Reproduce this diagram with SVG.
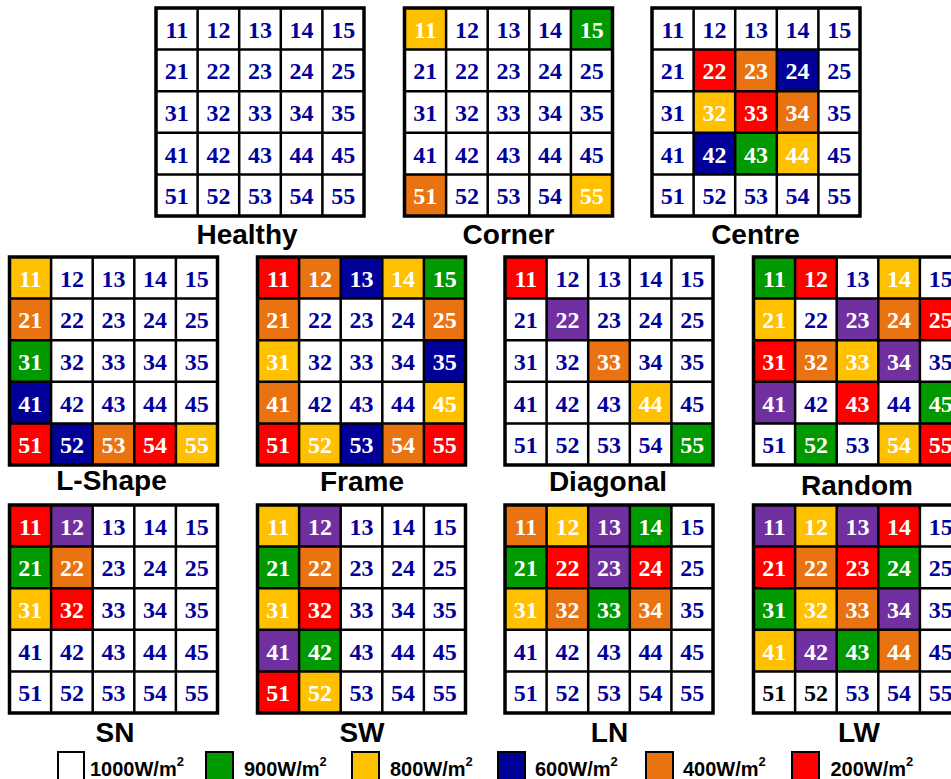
<svg xmlns="http://www.w3.org/2000/svg" xmlns:xlink="http://www.w3.org/1999/xlink" width="951" height="779" viewBox="0 0 951 779">
<style>
.y{fill:#FFC000}.gr{fill:#009900}.b{fill:#000099}.o{fill:#E97311}.r{fill:#FF0000}.p{fill:#7030A0}
.bg{fill:#fff}
.num{font-family:"Liberation Serif","Times New Roman",serif;font-weight:bold;font-size:24px;text-anchor:middle;fill:#000099}
.num .w{fill:#fff}.num .k{fill:#000}
.title{font-family:"Liberation Sans",Arial,sans-serif;font-weight:bold;font-size:28px;text-anchor:middle;fill:#000}
.leg{font-family:"Liberation Sans",Arial,sans-serif;font-weight:bold;font-size:20px;fill:#000}
.lbox{stroke:#000;stroke-width:2}
</style>
<defs>
<g id="lines"><path d="M41.6 0V208M83.2 0V208M124.8 0V208M166.4 0V208M0 41.6H208M0 83.2H208M0 124.8H208M0 166.4H208" stroke="#000" stroke-width="2.5" fill="none"/><rect width="208" height="208" fill="none" stroke="#000" stroke-width="3.5"/></g>
</defs>
<rect width="951" height="779" fill="#fff"/>

<g id="healthy" transform="translate(156,8)">
<rect class="bg" width="208" height="208"/>
<use xlink:href="#lines"/>
<text class="num" y="29.8"><tspan x="20.8">11</tspan><tspan x="62.4">12</tspan><tspan x="104">13</tspan><tspan x="145.6">14</tspan><tspan x="187.2">15</tspan></text>
<text class="num" y="71.4"><tspan x="20.8">21</tspan><tspan x="62.4">22</tspan><tspan x="104">23</tspan><tspan x="145.6">24</tspan><tspan x="187.2">25</tspan></text>
<text class="num" y="113"><tspan x="20.8">31</tspan><tspan x="62.4">32</tspan><tspan x="104">33</tspan><tspan x="145.6">34</tspan><tspan x="187.2">35</tspan></text>
<text class="num" y="154.6"><tspan x="20.8">41</tspan><tspan x="62.4">42</tspan><tspan x="104">43</tspan><tspan x="145.6">44</tspan><tspan x="187.2">45</tspan></text>
<text class="num" y="196.2"><tspan x="20.8">51</tspan><tspan x="62.4">52</tspan><tspan x="104">53</tspan><tspan x="145.6">54</tspan><tspan x="187.2">55</tspan></text>
</g>
<text class="title" x="247" y="244">Healthy</text>

<g id="corner" transform="translate(404.5,8)">
<rect class="bg" width="208" height="208"/>
<rect class="y" x="0" y="0" width="41.6" height="41.6"/>
<rect class="gr" x="166.4" y="0" width="41.6" height="41.6"/>
<rect class="o" x="0" y="166.4" width="41.6" height="41.6"/>
<rect class="y" x="166.4" y="166.4" width="41.6" height="41.6"/>
<use xlink:href="#lines"/>
<text class="num" y="29.8"><tspan x="20.8" class="w">11</tspan><tspan x="62.4">12</tspan><tspan x="104">13</tspan><tspan x="145.6">14</tspan><tspan x="187.2" class="w">15</tspan></text>
<text class="num" y="71.4"><tspan x="20.8">21</tspan><tspan x="62.4">22</tspan><tspan x="104">23</tspan><tspan x="145.6">24</tspan><tspan x="187.2">25</tspan></text>
<text class="num" y="113"><tspan x="20.8">31</tspan><tspan x="62.4">32</tspan><tspan x="104">33</tspan><tspan x="145.6">34</tspan><tspan x="187.2">35</tspan></text>
<text class="num" y="154.6"><tspan x="20.8">41</tspan><tspan x="62.4">42</tspan><tspan x="104">43</tspan><tspan x="145.6">44</tspan><tspan x="187.2">45</tspan></text>
<text class="num" y="196.2"><tspan x="20.8" class="w">51</tspan><tspan x="62.4">52</tspan><tspan x="104">53</tspan><tspan x="145.6">54</tspan><tspan x="187.2" class="w">55</tspan></text>
</g>
<text class="title" x="508.5" y="244">Corner</text>

<g id="centre" transform="translate(652,8)">
<rect class="bg" width="208" height="208"/>
<rect class="r" x="41.6" y="41.6" width="41.6" height="41.6"/>
<rect class="o" x="83.2" y="41.6" width="41.6" height="41.6"/>
<rect class="b" x="124.8" y="41.6" width="41.6" height="41.6"/>
<rect class="y" x="41.6" y="83.2" width="41.6" height="41.6"/>
<rect class="r" x="83.2" y="83.2" width="41.6" height="41.6"/>
<rect class="o" x="124.8" y="83.2" width="41.6" height="41.6"/>
<rect class="b" x="41.6" y="124.8" width="41.6" height="41.6"/>
<rect class="gr" x="83.2" y="124.8" width="41.6" height="41.6"/>
<rect class="y" x="124.8" y="124.8" width="41.6" height="41.6"/>
<use xlink:href="#lines"/>
<text class="num" y="29.8"><tspan x="20.8">11</tspan><tspan x="62.4">12</tspan><tspan x="104">13</tspan><tspan x="145.6">14</tspan><tspan x="187.2">15</tspan></text>
<text class="num" y="71.4"><tspan x="20.8">21</tspan><tspan x="62.4" class="w">22</tspan><tspan x="104" class="w">23</tspan><tspan x="145.6" class="w">24</tspan><tspan x="187.2">25</tspan></text>
<text class="num" y="113"><tspan x="20.8">31</tspan><tspan x="62.4" class="w">32</tspan><tspan x="104" class="w">33</tspan><tspan x="145.6" class="w">34</tspan><tspan x="187.2">35</tspan></text>
<text class="num" y="154.6"><tspan x="20.8">41</tspan><tspan x="62.4" class="w">42</tspan><tspan x="104" class="w">43</tspan><tspan x="145.6" class="w">44</tspan><tspan x="187.2">45</tspan></text>
<text class="num" y="196.2"><tspan x="20.8">51</tspan><tspan x="62.4">52</tspan><tspan x="104">53</tspan><tspan x="145.6">54</tspan><tspan x="187.2">55</tspan></text>
</g>
<text class="title" x="755.5" y="244">Centre</text>

<g id="lshape" transform="translate(9.5,257)">
<rect class="bg" width="208" height="208"/>
<rect class="y" x="0" y="0" width="41.6" height="41.6"/>
<rect class="o" x="0" y="41.6" width="41.6" height="41.6"/>
<rect class="gr" x="0" y="83.2" width="41.6" height="41.6"/>
<rect class="b" x="0" y="124.8" width="41.6" height="41.6"/>
<rect class="r" x="0" y="166.4" width="41.6" height="41.6"/>
<rect class="b" x="41.6" y="166.4" width="41.6" height="41.6"/>
<rect class="o" x="83.2" y="166.4" width="41.6" height="41.6"/>
<rect class="r" x="124.8" y="166.4" width="41.6" height="41.6"/>
<rect class="y" x="166.4" y="166.4" width="41.6" height="41.6"/>
<use xlink:href="#lines"/>
<text class="num" y="29.8"><tspan x="20.8" class="w">11</tspan><tspan x="62.4">12</tspan><tspan x="104">13</tspan><tspan x="145.6">14</tspan><tspan x="187.2">15</tspan></text>
<text class="num" y="71.4"><tspan x="20.8" class="w">21</tspan><tspan x="62.4">22</tspan><tspan x="104">23</tspan><tspan x="145.6">24</tspan><tspan x="187.2">25</tspan></text>
<text class="num" y="113"><tspan x="20.8" class="w">31</tspan><tspan x="62.4">32</tspan><tspan x="104">33</tspan><tspan x="145.6">34</tspan><tspan x="187.2">35</tspan></text>
<text class="num" y="154.6"><tspan x="20.8" class="w">41</tspan><tspan x="62.4">42</tspan><tspan x="104">43</tspan><tspan x="145.6">44</tspan><tspan x="187.2">45</tspan></text>
<text class="num" y="196.2"><tspan x="20.8" class="w">51</tspan><tspan x="62.4" class="w">52</tspan><tspan x="104" class="w">53</tspan><tspan x="145.6" class="w">54</tspan><tspan x="187.2" class="w">55</tspan></text>
</g>
<text class="title" x="111.5" y="490">L-Shape</text>

<g id="frame" transform="translate(257.5,257)">
<rect class="bg" width="208" height="208"/>
<rect class="r" x="0" y="0" width="41.6" height="41.6"/>
<rect class="o" x="41.6" y="0" width="41.6" height="41.6"/>
<rect class="b" x="83.2" y="0" width="41.6" height="41.6"/>
<rect class="y" x="124.8" y="0" width="41.6" height="41.6"/>
<rect class="gr" x="166.4" y="0" width="41.6" height="41.6"/>
<rect class="o" x="0" y="41.6" width="41.6" height="41.6"/>
<rect class="o" x="166.4" y="41.6" width="41.6" height="41.6"/>
<rect class="y" x="0" y="83.2" width="41.6" height="41.6"/>
<rect class="b" x="166.4" y="83.2" width="41.6" height="41.6"/>
<rect class="o" x="0" y="124.8" width="41.6" height="41.6"/>
<rect class="y" x="166.4" y="124.8" width="41.6" height="41.6"/>
<rect class="r" x="0" y="166.4" width="41.6" height="41.6"/>
<rect class="y" x="41.6" y="166.4" width="41.6" height="41.6"/>
<rect class="b" x="83.2" y="166.4" width="41.6" height="41.6"/>
<rect class="o" x="124.8" y="166.4" width="41.6" height="41.6"/>
<rect class="r" x="166.4" y="166.4" width="41.6" height="41.6"/>
<use xlink:href="#lines"/>
<text class="num" y="29.8"><tspan x="20.8" class="w">11</tspan><tspan x="62.4" class="w">12</tspan><tspan x="104" class="w">13</tspan><tspan x="145.6" class="w">14</tspan><tspan x="187.2" class="w">15</tspan></text>
<text class="num" y="71.4"><tspan x="20.8" class="w">21</tspan><tspan x="62.4">22</tspan><tspan x="104">23</tspan><tspan x="145.6">24</tspan><tspan x="187.2" class="w">25</tspan></text>
<text class="num" y="113"><tspan x="20.8" class="w">31</tspan><tspan x="62.4">32</tspan><tspan x="104">33</tspan><tspan x="145.6">34</tspan><tspan x="187.2" class="w">35</tspan></text>
<text class="num" y="154.6"><tspan x="20.8" class="w">41</tspan><tspan x="62.4">42</tspan><tspan x="104">43</tspan><tspan x="145.6">44</tspan><tspan x="187.2" class="w">45</tspan></text>
<text class="num" y="196.2"><tspan x="20.8" class="w">51</tspan><tspan x="62.4" class="w">52</tspan><tspan x="104" class="w">53</tspan><tspan x="145.6" class="w">54</tspan><tspan x="187.2" class="w">55</tspan></text>
</g>
<text class="title" x="362" y="491">Frame</text>

<g id="diagonal" transform="translate(505,257)">
<rect class="bg" width="208" height="208"/>
<rect class="r" x="0" y="0" width="41.6" height="41.6"/>
<rect class="p" x="41.6" y="41.6" width="41.6" height="41.6"/>
<rect class="o" x="83.2" y="83.2" width="41.6" height="41.6"/>
<rect class="y" x="124.8" y="124.8" width="41.6" height="41.6"/>
<rect class="gr" x="166.4" y="166.4" width="41.6" height="41.6"/>
<use xlink:href="#lines"/>
<text class="num" y="29.8"><tspan x="20.8" class="w">11</tspan><tspan x="62.4">12</tspan><tspan x="104">13</tspan><tspan x="145.6">14</tspan><tspan x="187.2">15</tspan></text>
<text class="num" y="71.4"><tspan x="20.8">21</tspan><tspan x="62.4" class="w">22</tspan><tspan x="104">23</tspan><tspan x="145.6">24</tspan><tspan x="187.2">25</tspan></text>
<text class="num" y="113"><tspan x="20.8">31</tspan><tspan x="62.4">32</tspan><tspan x="104" class="w">33</tspan><tspan x="145.6">34</tspan><tspan x="187.2">35</tspan></text>
<text class="num" y="154.6"><tspan x="20.8">41</tspan><tspan x="62.4">42</tspan><tspan x="104">43</tspan><tspan x="145.6" class="w">44</tspan><tspan x="187.2">45</tspan></text>
<text class="num" y="196.2"><tspan x="20.8">51</tspan><tspan x="62.4">52</tspan><tspan x="104">53</tspan><tspan x="145.6">54</tspan><tspan x="187.2" class="w">55</tspan></text>
</g>
<text class="title" x="608" y="491">Diagonal</text>

<g id="random" transform="translate(753.5,257)">
<rect class="bg" width="208" height="208"/>
<rect class="gr" x="0" y="0" width="41.6" height="41.6"/>
<rect class="r" x="41.6" y="0" width="41.6" height="41.6"/>
<rect class="y" x="124.8" y="0" width="41.6" height="41.6"/>
<rect class="y" x="0" y="41.6" width="41.6" height="41.6"/>
<rect class="p" x="83.2" y="41.6" width="41.6" height="41.6"/>
<rect class="o" x="124.8" y="41.6" width="41.6" height="41.6"/>
<rect class="r" x="166.4" y="41.6" width="41.6" height="41.6"/>
<rect class="r" x="0" y="83.2" width="41.6" height="41.6"/>
<rect class="o" x="41.6" y="83.2" width="41.6" height="41.6"/>
<rect class="y" x="83.2" y="83.2" width="41.6" height="41.6"/>
<rect class="p" x="124.8" y="83.2" width="41.6" height="41.6"/>
<rect class="p" x="0" y="124.8" width="41.6" height="41.6"/>
<rect class="r" x="83.2" y="124.8" width="41.6" height="41.6"/>
<rect class="gr" x="166.4" y="124.8" width="41.6" height="41.6"/>
<rect class="gr" x="41.6" y="166.4" width="41.6" height="41.6"/>
<rect class="y" x="124.8" y="166.4" width="41.6" height="41.6"/>
<rect class="r" x="166.4" y="166.4" width="41.6" height="41.6"/>
<use xlink:href="#lines"/>
<text class="num" y="29.8"><tspan x="20.8" class="w">11</tspan><tspan x="62.4" class="w">12</tspan><tspan x="104">13</tspan><tspan x="145.6" class="w">14</tspan><tspan x="187.2">15</tspan></text>
<text class="num" y="71.4"><tspan x="20.8" class="w">21</tspan><tspan x="62.4">22</tspan><tspan x="104" class="w">23</tspan><tspan x="145.6" class="w">24</tspan><tspan x="187.2" class="w">25</tspan></text>
<text class="num" y="113"><tspan x="20.8" class="w">31</tspan><tspan x="62.4" class="w">32</tspan><tspan x="104" class="w">33</tspan><tspan x="145.6" class="w">34</tspan><tspan x="187.2">35</tspan></text>
<text class="num" y="154.6"><tspan x="20.8" class="w">41</tspan><tspan x="62.4">42</tspan><tspan x="104" class="w">43</tspan><tspan x="145.6">44</tspan><tspan x="187.2" class="w">45</tspan></text>
<text class="num" y="196.2"><tspan x="20.8">51</tspan><tspan x="62.4" class="w">52</tspan><tspan x="104">53</tspan><tspan x="145.6" class="w">54</tspan><tspan x="187.2" class="w">55</tspan></text>
</g>
<text class="title" x="857" y="495">Random</text>

<g id="sn" transform="translate(9.5,505)">
<rect class="bg" width="208" height="208"/>
<rect class="r" x="0" y="0" width="41.6" height="41.6"/>
<rect class="p" x="41.6" y="0" width="41.6" height="41.6"/>
<rect class="gr" x="0" y="41.6" width="41.6" height="41.6"/>
<rect class="o" x="41.6" y="41.6" width="41.6" height="41.6"/>
<rect class="y" x="0" y="83.2" width="41.6" height="41.6"/>
<rect class="r" x="41.6" y="83.2" width="41.6" height="41.6"/>
<use xlink:href="#lines"/>
<text class="num" y="29.8"><tspan x="20.8" class="w">11</tspan><tspan x="62.4" class="w">12</tspan><tspan x="104">13</tspan><tspan x="145.6">14</tspan><tspan x="187.2">15</tspan></text>
<text class="num" y="71.4"><tspan x="20.8" class="w">21</tspan><tspan x="62.4" class="w">22</tspan><tspan x="104">23</tspan><tspan x="145.6">24</tspan><tspan x="187.2">25</tspan></text>
<text class="num" y="113"><tspan x="20.8" class="w">31</tspan><tspan x="62.4" class="w">32</tspan><tspan x="104">33</tspan><tspan x="145.6">34</tspan><tspan x="187.2">35</tspan></text>
<text class="num" y="154.6"><tspan x="20.8">41</tspan><tspan x="62.4">42</tspan><tspan x="104">43</tspan><tspan x="145.6">44</tspan><tspan x="187.2">45</tspan></text>
<text class="num" y="196.2"><tspan x="20.8">51</tspan><tspan x="62.4">52</tspan><tspan x="104">53</tspan><tspan x="145.6">54</tspan><tspan x="187.2">55</tspan></text>
</g>
<text class="title" x="115" y="742">SN</text>

<g id="sw" transform="translate(257.5,505)">
<rect class="bg" width="208" height="208"/>
<rect class="y" x="0" y="0" width="41.6" height="41.6"/>
<rect class="p" x="41.6" y="0" width="41.6" height="41.6"/>
<rect class="gr" x="0" y="41.6" width="41.6" height="41.6"/>
<rect class="o" x="41.6" y="41.6" width="41.6" height="41.6"/>
<rect class="y" x="0" y="83.2" width="41.6" height="41.6"/>
<rect class="r" x="41.6" y="83.2" width="41.6" height="41.6"/>
<rect class="p" x="0" y="124.8" width="41.6" height="41.6"/>
<rect class="gr" x="41.6" y="124.8" width="41.6" height="41.6"/>
<rect class="r" x="0" y="166.4" width="41.6" height="41.6"/>
<rect class="y" x="41.6" y="166.4" width="41.6" height="41.6"/>
<use xlink:href="#lines"/>
<text class="num" y="29.8"><tspan x="20.8" class="w">11</tspan><tspan x="62.4" class="w">12</tspan><tspan x="104">13</tspan><tspan x="145.6">14</tspan><tspan x="187.2">15</tspan></text>
<text class="num" y="71.4"><tspan x="20.8" class="w">21</tspan><tspan x="62.4" class="w">22</tspan><tspan x="104">23</tspan><tspan x="145.6">24</tspan><tspan x="187.2">25</tspan></text>
<text class="num" y="113"><tspan x="20.8" class="w">31</tspan><tspan x="62.4" class="w">32</tspan><tspan x="104">33</tspan><tspan x="145.6">34</tspan><tspan x="187.2">35</tspan></text>
<text class="num" y="154.6"><tspan x="20.8" class="w">41</tspan><tspan x="62.4" class="w">42</tspan><tspan x="104">43</tspan><tspan x="145.6">44</tspan><tspan x="187.2">45</tspan></text>
<text class="num" y="196.2"><tspan x="20.8" class="w">51</tspan><tspan x="62.4" class="w">52</tspan><tspan x="104">53</tspan><tspan x="145.6">54</tspan><tspan x="187.2">55</tspan></text>
</g>
<text class="title" x="362" y="742">SW</text>

<g id="ln" transform="translate(505,505)">
<rect class="bg" width="208" height="208"/>
<rect class="o" x="0" y="0" width="41.6" height="41.6"/>
<rect class="y" x="41.6" y="0" width="41.6" height="41.6"/>
<rect class="p" x="83.2" y="0" width="41.6" height="41.6"/>
<rect class="gr" x="124.8" y="0" width="41.6" height="41.6"/>
<rect class="gr" x="0" y="41.6" width="41.6" height="41.6"/>
<rect class="r" x="41.6" y="41.6" width="41.6" height="41.6"/>
<rect class="p" x="83.2" y="41.6" width="41.6" height="41.6"/>
<rect class="r" x="124.8" y="41.6" width="41.6" height="41.6"/>
<rect class="y" x="0" y="83.2" width="41.6" height="41.6"/>
<rect class="o" x="41.6" y="83.2" width="41.6" height="41.6"/>
<rect class="gr" x="83.2" y="83.2" width="41.6" height="41.6"/>
<rect class="o" x="124.8" y="83.2" width="41.6" height="41.6"/>
<use xlink:href="#lines"/>
<text class="num" y="29.8"><tspan x="20.8" class="w">11</tspan><tspan x="62.4" class="w">12</tspan><tspan x="104" class="w">13</tspan><tspan x="145.6" class="w">14</tspan><tspan x="187.2">15</tspan></text>
<text class="num" y="71.4"><tspan x="20.8" class="w">21</tspan><tspan x="62.4" class="w">22</tspan><tspan x="104" class="w">23</tspan><tspan x="145.6" class="w">24</tspan><tspan x="187.2">25</tspan></text>
<text class="num" y="113"><tspan x="20.8" class="w">31</tspan><tspan x="62.4" class="w">32</tspan><tspan x="104" class="w">33</tspan><tspan x="145.6" class="w">34</tspan><tspan x="187.2">35</tspan></text>
<text class="num" y="154.6"><tspan x="20.8">41</tspan><tspan x="62.4">42</tspan><tspan x="104">43</tspan><tspan x="145.6">44</tspan><tspan x="187.2">45</tspan></text>
<text class="num" y="196.2"><tspan x="20.8">51</tspan><tspan x="62.4">52</tspan><tspan x="104">53</tspan><tspan x="145.6">54</tspan><tspan x="187.2">55</tspan></text>
</g>
<text class="title" x="609.5" y="742">LN</text>

<g id="lw" transform="translate(753.5,505)">
<rect class="bg" width="208" height="208"/>
<rect class="p" x="0" y="0" width="41.6" height="41.6"/>
<rect class="y" x="41.6" y="0" width="41.6" height="41.6"/>
<rect class="p" x="83.2" y="0" width="41.6" height="41.6"/>
<rect class="r" x="124.8" y="0" width="41.6" height="41.6"/>
<rect class="r" x="0" y="41.6" width="41.6" height="41.6"/>
<rect class="o" x="41.6" y="41.6" width="41.6" height="41.6"/>
<rect class="r" x="83.2" y="41.6" width="41.6" height="41.6"/>
<rect class="gr" x="124.8" y="41.6" width="41.6" height="41.6"/>
<rect class="gr" x="0" y="83.2" width="41.6" height="41.6"/>
<rect class="y" x="41.6" y="83.2" width="41.6" height="41.6"/>
<rect class="o" x="83.2" y="83.2" width="41.6" height="41.6"/>
<rect class="p" x="124.8" y="83.2" width="41.6" height="41.6"/>
<rect class="y" x="0" y="124.8" width="41.6" height="41.6"/>
<rect class="p" x="41.6" y="124.8" width="41.6" height="41.6"/>
<rect class="gr" x="83.2" y="124.8" width="41.6" height="41.6"/>
<rect class="o" x="124.8" y="124.8" width="41.6" height="41.6"/>
<use xlink:href="#lines"/>
<text class="num" y="29.8"><tspan x="20.8" class="w">11</tspan><tspan x="62.4" class="w">12</tspan><tspan x="104" class="w">13</tspan><tspan x="145.6" class="w">14</tspan><tspan x="187.2">15</tspan></text>
<text class="num" y="71.4"><tspan x="20.8" class="w">21</tspan><tspan x="62.4" class="w">22</tspan><tspan x="104" class="w">23</tspan><tspan x="145.6" class="w">24</tspan><tspan x="187.2">25</tspan></text>
<text class="num" y="113"><tspan x="20.8" class="w">31</tspan><tspan x="62.4" class="w">32</tspan><tspan x="104" class="w">33</tspan><tspan x="145.6" class="w">34</tspan><tspan x="187.2">35</tspan></text>
<text class="num" y="154.6"><tspan x="20.8" class="w">41</tspan><tspan x="62.4" class="w">42</tspan><tspan x="104" class="w">43</tspan><tspan x="145.6" class="w">44</tspan><tspan x="187.2">45</tspan></text>
<text class="num" y="196.2"><tspan x="20.8" class="k">51</tspan><tspan x="62.4" class="k">52</tspan><tspan x="104">53</tspan><tspan x="145.6">54</tspan><tspan x="187.2">55</tspan></text>
</g>
<text class="title" x="859" y="742">LW</text>

<g id="legend">
<rect class="lbox" x="58" y="752" width="26" height="32" fill="#fff"/>
<text class="leg" x="90" y="776">1000W/m<tspan font-size="13" dy="-10">2</tspan></text>
<rect class="lbox gr" x="206" y="752" width="27" height="32"/>
<text class="leg" x="244" y="776">900W/m<tspan font-size="13" dy="-10">2</tspan></text>
<rect class="lbox y" x="352" y="752" width="27" height="32"/>
<text class="leg" x="390" y="776">800W/m<tspan font-size="13" dy="-10">2</tspan></text>
<rect class="lbox b" x="498" y="752" width="27" height="32"/>
<text class="leg" x="535" y="776">600W/m<tspan font-size="13" dy="-10">2</tspan></text>
<rect class="lbox o" x="646" y="752" width="27" height="32"/>
<text class="leg" x="683" y="776">400W/m<tspan font-size="13" dy="-10">2</tspan></text>
<rect class="lbox r" x="792" y="752" width="27" height="32"/>
<text class="leg" x="830.5" y="776">200W/m<tspan font-size="13" dy="-10">2</tspan></text>
</g>
</svg>
